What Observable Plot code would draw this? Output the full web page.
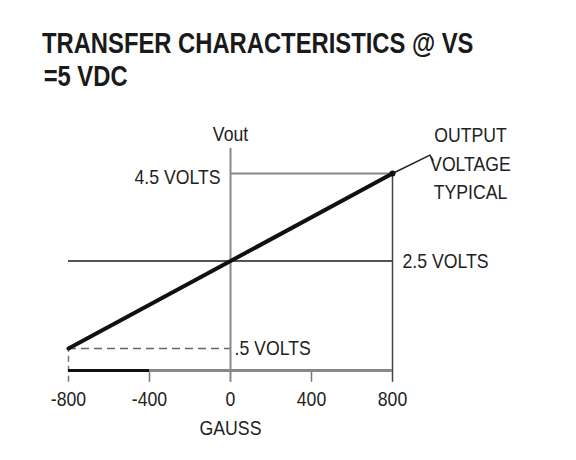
<!DOCTYPE html>
<html>
<head>
<meta charset="utf-8">
<script src="https://cdn.jsdelivr.net/npm/d3@7"></script>
<script src="https://cdn.jsdelivr.net/npm/@observablehq/plot@0.6"></script>
<style>
  body { margin: 0; background: #fff; }
  #wrap { position: relative; width: 576px; height: 460px; }
  #title { position: absolute; left: 42px; top: 27px; font-family: "Liberation Sans", Arial, sans-serif; font-weight: bold; font-size: 29px; line-height: 33px; color: #1a1a1a; white-space: nowrap; transform: scaleX(0.82); transform-origin: left top; }
  #title span { padding-left: 2px; }
  #chart { position: absolute; left: 0; top: 100px; }
</style>
</head>
<body>
<div id="wrap">
  <div id="title">TRANSFER CHARACTERISTICS @ VS<br><span>=5 VDC</span></div>
  <div id="chart"></div>
</div>
<script>
// Data
const gaussTicks = [-800, -400, 0, 400, 800];
const transferGauss = [-800, 800];
const transferVolts = [0.5, 4.5];
const levelVolts = [0.5, 2.5, 4.5];
const levelLabels = [".5 VOLTS", "2.5 VOLTS", "4.5 VOLTS"];
const axisTitleX = "GAUSS";
const axisTitleY = "Vout";
const noteText = "OUTPUT\nVOLTAGE\nTYPICAL";
const leaderGauss = [800, 985, 1000];
const leaderVolts = [4.5, 4.92, 4.8];

const transfer = transferGauss.map((g, i) => ({g, v: transferVolts[i]}));
const leader = leaderGauss.map((g, i) => ({g, v: leaderVolts[i]}));
const belowV = -0.27; // tick extent below baseline, in volts
const topV = 5.07;

const plot = Plot.plot({
  width: 576,
  height: 360,
  marginLeft: 68,
  marginRight: 184,
  marginTop: 73,
  marginBottom: 90,
  style: {fontFamily: "'Liberation Sans', Arial, sans-serif", fontSize: "21px", color: "#222", background: "#fff", overflow: "visible"},
  x: {domain: [-800, 800]},
  y: {domain: [0, 4.5], axis: null},
  marks: [
    Plot.ruleY([levelVolts[1]], {x1: -800, x2: 800, stroke: "#555", strokeWidth: 2}),
    Plot.ruleY([levelVolts[2]], {x1: 0, x2: 800, stroke: "#888", strokeWidth: 2}),
    Plot.ruleY([levelVolts[0]], {x1: -800, x2: 0, stroke: "#666", strokeWidth: 1.5, strokeDasharray: "8,5"}),
    Plot.ruleX([0], {y1: belowV, y2: topV, stroke: "#888", strokeWidth: 2}),
    Plot.ruleX([800], {y1: belowV, y2: 4.5, stroke: "#444", strokeWidth: 1.5}),
    Plot.ruleX([-400, 400], {y1: belowV, y2: 0, stroke: "#777", strokeWidth: 1.5}),
    Plot.ruleX([-800], {y1: belowV, y2: 0.5, stroke: "#777", strokeWidth: 1.5, strokeDasharray: "6,4"}),
    Plot.ruleY([0], {x1: -800, x2: 800, stroke: "#888", strokeWidth: 3}),
    Plot.ruleY([0], {x1: -800, x2: -400, stroke: "#111", strokeWidth: 3}),
    Plot.line(transfer, {x: "g", y: "v", stroke: "#111", strokeWidth: 4}),
    Plot.line(leader, {x: "g", y: "v", stroke: "#222", strokeWidth: 1.5}),
    Plot.dot([transfer[1]], {x: "g", y: "v", r: 3, fill: "#111"}),
    Plot.text([levelLabels[2]], {x: 0, y: levelVolts[2], textAnchor: "end", dx: -10, dy: 4, fill: "#222"}),
    Plot.text([levelLabels[1]], {x: 800, y: levelVolts[1], textAnchor: "start", dx: 10, fill: "#222"}),
    Plot.text([levelLabels[0]], {x: 0, y: levelVolts[0], textAnchor: "start", dx: 4, fill: "#222"}),
    Plot.text([axisTitleY], {x: 0, y: topV, dy: -14, fill: "#222"}),
    Plot.text([noteText], {x: 1185, y: 4.7, dy: -3, lineHeight: 1.35, fill: "#222"}),
    Plot.text([axisTitleX], {x: 0, y: belowV, dy: 46, fill: "#222"}),
    Plot.axisX({ticks: gaussTicks, tickSize: 0, tickPadding: 21, tickFormat: d => String(d), label: null, fill: "#222"})
  ]
});
document.getElementById("chart").appendChild(plot);
// condense the lettering like the reference's narrow typeface
plot.querySelectorAll("text").forEach(t => {
  const spans = t.querySelectorAll("tspan");
  const els = spans.length ? Array.from(spans) : [t];
  els.forEach(e => {
    const L = e.getComputedTextLength();
    e.setAttribute("textLength", (L * 0.84).toFixed(1));
    e.setAttribute("lengthAdjust", "spacingAndGlyphs");
  });
});
</script>
</body>
</html>
